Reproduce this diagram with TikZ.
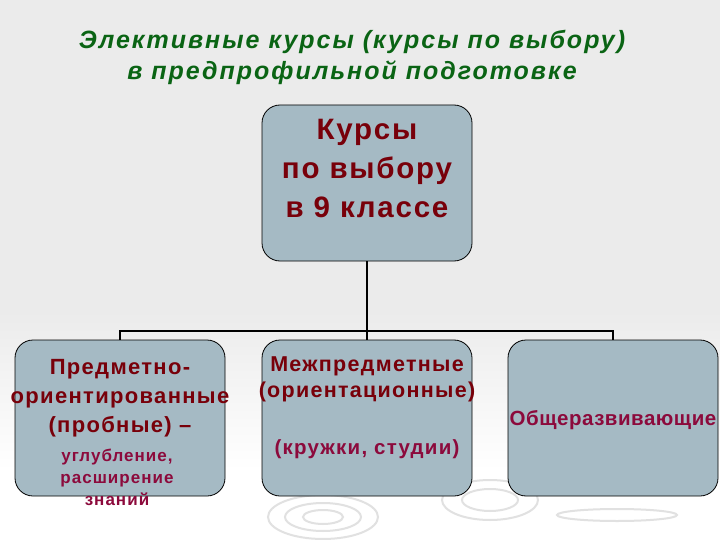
\documentclass[tikz,border=0pt]{standalone}
\usepackage{fontspec}
\setmainfont{Liberation Sans}[LetterSpace=6]
\newfontfamily\titlefont{Liberation Sans}[LetterSpace=8]
\newfontfamily\narrowfont{Liberation Sans}[LetterSpace=2.5]
\definecolor{bggray}{RGB}{235,235,235}
\definecolor{boxfill}{RGB}{165,186,196}
\definecolor{darkred}{RGB}{120,0,10}
\definecolor{winered}{RGB}{140,10,60}
\definecolor{titlegreen}{RGB}{10,100,20}
\definecolor{ripplegray}{RGB}{225,225,225}
\begin{document}
\begin{tikzpicture}[x=1pt,y=-1pt]

\tikzset{kursbox/.style={rectangle,rounded corners=18pt,draw=black,line width=0.8pt,fill=boxfill,minimum width=210pt,minimum height=156pt,inner sep=0pt},}
\tikzset{bigtxt/.style={font=\fontsize{22}{29}\selectfont\bfseries,text=darkred,align=center,inner sep=0pt},}
\tikzset{smalltxt/.style={font=\fontsize{17}{22}\selectfont\bfseries,text=winered,align=center,inner sep=0pt},}
\tikzset{conn/.style={draw=black,line width=2pt},}
\tikzset{ripple/.style={draw=ripplegray,line width=2pt},}

%FONDO
\useasboundingbox (0,0) rectangle (720,540);
\fill[bggray] (0,0) rectangle (720,310);
\shade[top color=bggray,bottom color=white] (0,310) rectangle (720,470);
\fill[white] (0,470) rectangle (720,540);
\draw[ripple] (323,517) ellipse [x radius=55,y radius=22];
\draw[ripple] (323,517) ellipse [x radius=38,y radius=14];
\draw[ripple] (323,517) ellipse [x radius=20,y radius=7];
\draw[ripple] (490,500) ellipse [x radius=48,y radius=20];
\draw[ripple] (490,500) ellipse [x radius=28,y radius=11];
\draw[ripple] (617,515) ellipse [x radius=60,y radius=6];

%TITOLO
\draw (352,57) node [font=\titlefont\fontsize{25}{31}\selectfont\bfseries\itshape,text=titlegreen,align=center,inner sep=0pt] (titolo) {Элективные курсы (курсы по выбору)\\в предпрофильной подготовке};

%RIQUADRI
\draw (367,183) node [kursbox] (kurs) {};
\draw (120,418) node [kursbox] (pred) {};
\draw (367,418) node [kursbox] (mezh) {};
\draw (613,418) node [kursbox] (obsh) {};

%TESTI
\draw (367,168) node [bigtxt,font=\fontsize{29.5}{39}\selectfont\bfseries] (tkurs) {Курсы\\по выбору\\в 9 классе};
\draw (120,398) node [bigtxt] (tpred) {Предметно-\\ориентированные\\(пробные) –};
\draw (117,477) node [smalltxt] (tpred2) {углубление,\\расширение\\знаний};
\draw (367,379) node [bigtxt,font=\fontsize{21.5}{26}\selectfont\bfseries] (tmezh) {Межпредметные\\(ориентационные)};
\draw (367,449) node [bigtxt,font=\fontsize{20.5}{26}\selectfont\bfseries,text=winered] (tmezh2) {(кружки, студии)};
\draw (613,420) node [bigtxt,font=\narrowfont\fontsize{20.5}{26}\selectfont\bfseries,text=winered] (tobsh) {Общеразвивающие};

%CONNETTORI
\coordinate (split) at (367,331);
\draw[conn] (kurs.south) -- (split);
\draw[conn] (pred.north) |- (split);
\draw[conn] (obsh.north) |- (split);
\draw[conn] (mezh.north) -- (split);

\end{tikzpicture}
\end{document}
